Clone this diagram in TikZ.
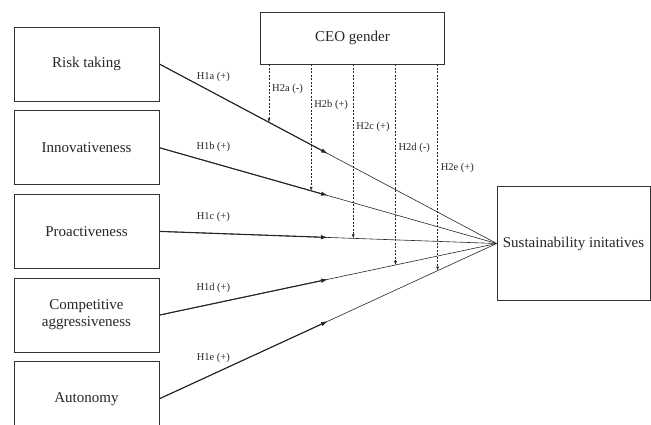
\documentclass[tikz,border=0pt]{standalone}
\usepackage{fontspec}
\setmainfont{Liberation Serif}
\usepackage{tikz}
\usetikzlibrary{positioning,arrows.meta,calc}

\begin{document}
\begin{tikzpicture}[x=1pt, y=-1pt, construct/.style={draw=black!80, line width=0.7pt, minimum width=145pt, minimum height=74pt, align=center, inner sep=0pt, text=black!85, font=\fontsize{15}{17}\selectfont}, link/.style={draw=black!85, line width=0.6pt}, effect/.style={-{Latex[length=7pt,width=4.5pt]}, line width=1.1pt, draw=black!85}, moderation/.style={-{Latex[length=4pt,width=3pt]}, line width=0.5pt, draw=black!85, dash pattern=on 2pt off 1.5pt}, hyp/.style={font=\fontsize{10.5}{12}\selectfont, text=black!85, inner sep=1pt}]
\useasboundingbox (0,0) rectangle (651,425);
\node[construct] (risk) at (86.5,64) {Risk taking};
\node[construct, below=9pt of risk] (innov) {Innovativeness};
\node[construct, below=9pt of innov] (proac) {Proactiveness};
\node[construct, below=9pt of proac] (comp) {Competitive\\aggressiveness};
\node[construct, below=9pt of comp] (auto) {Autonomy};
\node[construct, minimum width=184pt, minimum height=52pt] (ceo) at (352.5,38) {CEO gender};
\node[construct, minimum width=153pt, minimum height=114pt] (sust) at (573.5,243.5) {Sustainability initatives};
% main effects and moderation by CEO gender
\foreach \src/\num/\t/\dy/\sign in {risk/a/0.325/25/-, innov/b/0.45/41/+, proac/c/0.575/63/+, comp/d/0.7/84/-, auto/e/0.825/104/+}{
  \draw[link] (\src.east) -- (sust.west);
  \draw[effect] (\src.east) -- ($(\src.east)!0.5!(sust.west)$);
  \node[hyp] (h1\num) at ($(\src.east)!0.16!(sust.west)+(0,-16)$) {H1\num\ (+)};
  \coordinate (m\num) at ($(\src.east)!\t!(sust.west)$);
  \draw[moderation] (ceo.south -| m\num) -- (m\num);
  \node[hyp, right=2pt] (h2\num) at ($(ceo.south -| m\num)+(0,\dy)$) {H2\num\ (\sign)};
}
\end{tikzpicture}
\end{document}
